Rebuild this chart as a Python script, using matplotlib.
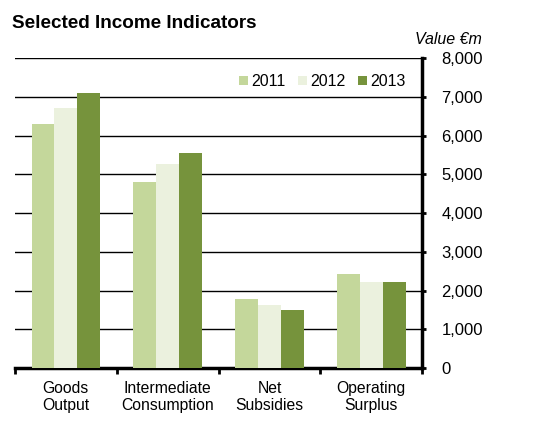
import numpy as np
import matplotlib
matplotlib.use('Agg')
import matplotlib.pyplot as plt

plt.rcParams['font.family'] = ['Liberation Sans', 'DejaVu Sans']

# データ
categories = ['Goods\nOutput', 'Intermediate\nConsumption', 'Net\nSubsidies', 'Operating\nSurplus']
years = ['2011', '2012', '2013']
values_2011 = [6300, 4800, 1780, 2430]
values_2012 = [6700, 5270, 1630, 2220]
values_2013 = [7100, 5550, 1500, 2220]
colors = ['#C4D79B', '#EBF1DE', '#76933C']
yticks = [0, 1000, 2000, 3000, 4000, 5000, 6000, 7000, 8000]

fig = plt.figure(figsize=(5.35, 4.3), dpi=100)
ax = fig.add_axes([0.028, 0.144, 0.761, 0.721])

x = np.arange(len(categories))
w = 0.225
for i, (vals, yr) in enumerate(zip([values_2011, values_2012, values_2013], years)):
    ax.bar(x + (i - 1) * w, vals, width=w, color=colors[i], label=yr, zorder=3)

ax.set_xlim(-0.5, len(categories) - 0.5)
ax.set_ylim(0, 8000)
ax.set_yticks(yticks)
ax.set_yticklabels([f'{v:,}' for v in yticks], fontsize=12)
ax.yaxis.tick_right()
ax.tick_params(axis='y', length=3, width=2, direction='out', pad=11)

# カテゴリ境界の目盛
ax.set_xticks(np.arange(len(categories) + 1) - 0.5)
ax.set_xticklabels([])
ax.set_xticks(x, minor=True)
ax.set_xticklabels(categories, minor=True, fontsize=11.3)
ax.tick_params(axis='x', which='major', length=4, width=2, direction='out')
ax.tick_params(axis='x', which='minor', length=0, pad=9)

ax.grid(axis='y', color='black', linewidth=1, zorder=0)
for s in ['top', 'left']:
    ax.spines[s].set_visible(False)
ax.spines['right'].set_linewidth(2.5)
ax.spines['bottom'].set_linewidth(2.5)

ax.legend(loc='upper right', bbox_to_anchor=(0.995, 0.995), ncol=3, frameon=False,
          fontsize=11.5, handlelength=0.55, handleheight=0.55, handletextpad=0.2,
          columnspacing=0.8)

fig.text(0.022, 0.945, 'Selected Income Indicators', fontsize=13.6, fontweight='bold', va='center')
fig.text(0.9, 0.908, 'Value €m', fontsize=11.5, style='italic', ha='right', va='center')

plt.savefig('out.png', dpi=100)
